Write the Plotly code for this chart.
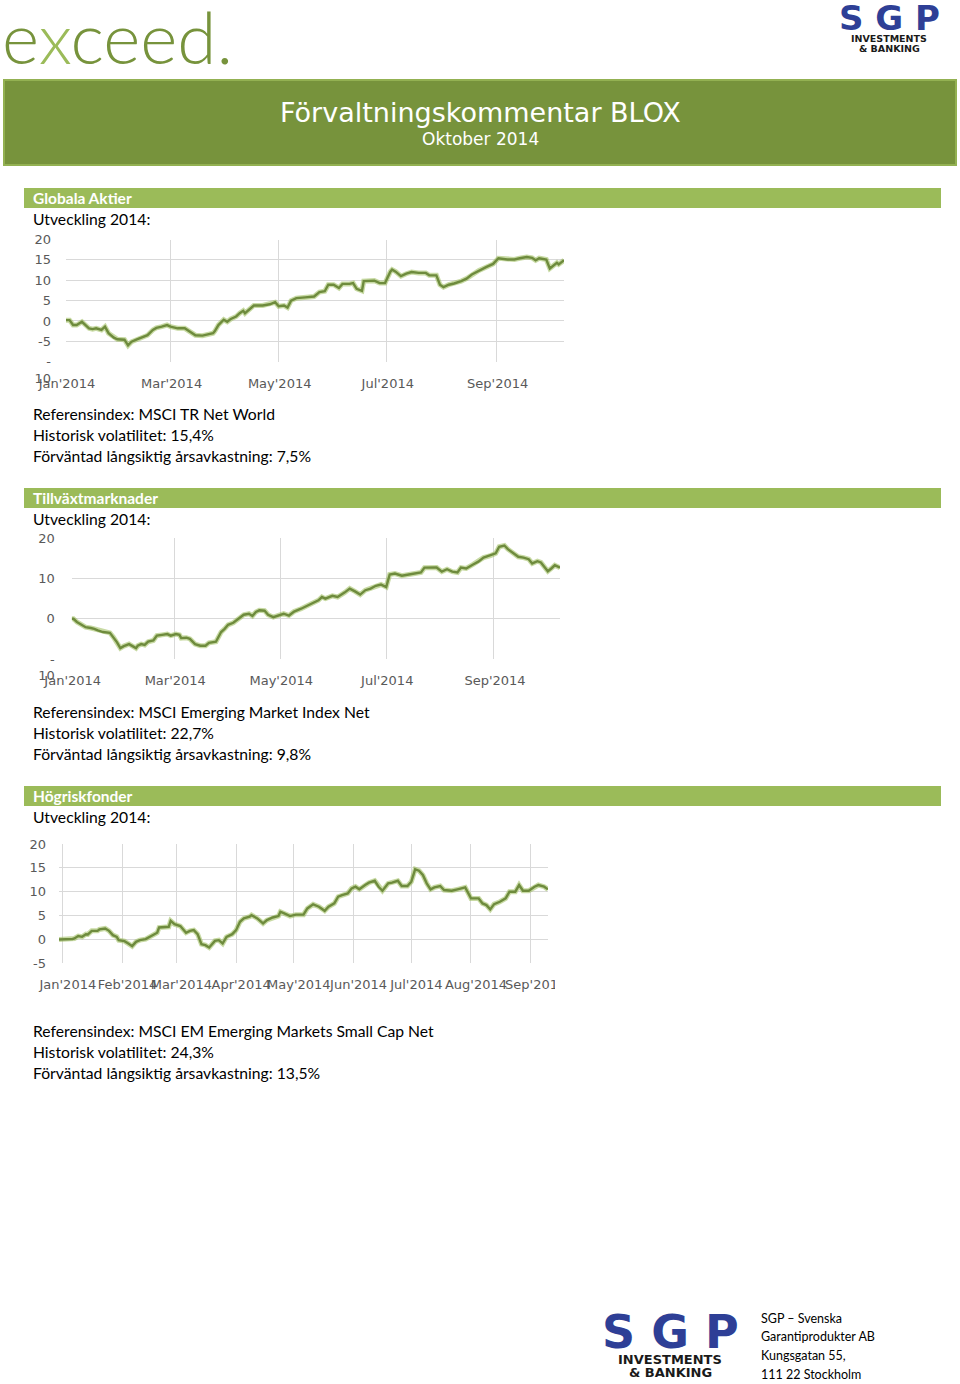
import plotly.graph_objects as go

W, H = 960, 1384

# ---------------- data ----------------
global_dates = ["2014-01-01","2014-01-03","2014-01-05","2014-01-07","2014-01-10","2014-01-12","2014-01-14","2014-01-16","2014-01-18","2014-01-21",
                "2014-01-23","2014-01-25","2014-01-28","2014-01-30","2014-02-03","2014-02-05","2014-02-07","2014-02-10","2014-02-13","2014-02-16",
                "2014-02-19","2014-02-21","2014-02-24","2014-02-27","2014-03-01","2014-03-05","2014-03-09","2014-03-12","2014-03-15","2014-03-19",
                "2014-03-22","2014-03-25","2014-03-26","2014-03-28","2014-03-31","2014-04-02","2014-04-04","2014-04-07","2014-04-09","2014-04-11",
                "2014-04-12","2014-04-15","2014-04-17","2014-04-22","2014-04-26","2014-04-29","2014-05-01","2014-05-04","2014-05-06","2014-05-08",
                "2014-05-11","2014-05-16","2014-05-21","2014-05-24","2014-05-27","2014-05-29","2014-06-01","2014-06-04","2014-06-06","2014-06-10",
                "2014-06-12","2014-06-14","2014-06-17","2014-06-18","2014-06-21","2014-06-24","2014-06-27","2014-06-30","2014-07-03","2014-07-04",
                "2014-07-06","2014-07-09","2014-07-12","2014-07-15","2014-07-19","2014-07-23","2014-07-25","2014-07-29","2014-07-31","2014-08-02",
                "2014-08-05","2014-08-08","2014-08-12","2014-08-15","2014-08-18","2014-08-22","2014-08-26","2014-08-30","2014-09-02","2014-09-07",
                "2014-09-11","2014-09-14","2014-09-18","2014-09-21","2014-09-23","2014-09-25","2014-09-29","2014-10-01","2014-10-03","2014-10-05",
                "2014-10-06","2014-10-08","2014-10-09"]
global_vals = [0.2,0.2,-1.0,-1.0,-0.2,-1.0,-1.8,-2.0,-1.8,-2.2,
               -1.4,-3.0,-4.1,-4.5,-4.6,-6.0,-5.1,-4.5,-3.9,-3.5,
               -2.2,-1.7,-1.4,-1.0,-1.4,-1.8,-1.8,-2.6,-3.5,-3.6,
               -3.3,-3.0,-2.5,-1.0,0.3,-0.2,0.5,1.1,1.9,2.5,
               1.9,3.1,3.8,3.8,4.1,4.6,3.6,3.8,3.3,5.0,
               5.6,5.8,6.0,7.1,7.3,8.9,8.9,8.1,9.1,9.1,
               9.3,7.9,7.4,9.8,9.8,9.9,9.3,9.3,12.1,12.6,
               12.1,11.0,11.6,12.0,11.8,11.8,11.2,11.2,8.9,8.3,
               8.9,9.2,9.8,10.4,11.4,12.4,13.2,14.0,15.4,15.1,
               15.1,15.4,15.7,15.5,14.9,15.4,15.1,12.9,13.7,14.3,
               13.9,14.5,14.9]

em_dates = ["2014-01-01","2014-01-02","2014-01-04","2014-01-07","2014-01-09","2014-01-12","2014-01-14","2014-01-16","2014-01-19","2014-01-23",
            "2014-01-25","2014-01-27","2014-01-29","2014-01-31","2014-02-03","2014-02-05","2014-02-07","2014-02-08","2014-02-10","2014-02-12",
            "2014-02-14","2014-02-17","2014-02-19","2014-02-22","2014-02-25","2014-02-27","2014-03-02","2014-03-04","2014-03-05","2014-03-08",
            "2014-03-10","2014-03-13","2014-03-16","2014-03-19","2014-03-21","2014-03-25","2014-03-28","2014-03-30","2014-04-01","2014-04-04",
            "2014-04-07","2014-04-10","2014-04-13","2014-04-15","2014-04-17","2014-04-19","2014-04-22","2014-04-24","2014-04-27","2014-04-30",
            "2014-05-03","2014-05-06","2014-05-09","2014-05-13","2014-05-17","2014-05-20","2014-05-23","2014-05-25","2014-05-27","2014-05-31",
            "2014-06-03","2014-06-07","2014-06-10","2014-06-13","2014-06-16","2014-06-19","2014-06-22","2014-06-25","2014-06-28","2014-07-01",
            "2014-07-03","2014-07-06","2014-07-08","2014-07-10","2014-07-14","2014-07-17","2014-07-21","2014-07-23","2014-07-27","2014-07-30",
            "2014-08-02","2014-08-05","2014-08-08","2014-08-11","2014-08-13","2014-08-16","2014-08-20","2014-08-23","2014-08-26","2014-08-30",
            "2014-09-02","2014-09-04","2014-09-07","2014-09-09","2014-09-12","2014-09-15","2014-09-18","2014-09-21","2014-09-23","2014-09-26",
            "2014-09-28","2014-10-02","2014-10-04","2014-10-06","2014-10-09"]
em_vals = [0.0,0.0,-0.8,-1.5,-2.1,-2.3,-2.5,-2.9,-3.3,-3.5,
           -4.6,-5.8,-7.3,-6.8,-6.3,-6.8,-7.3,-6.7,-6.3,-6.5,
           -5.7,-5.4,-4.2,-4.0,-3.8,-4.2,-3.8,-4.0,-4.8,-4.7,
           -5.0,-6.3,-6.7,-6.7,-6.0,-5.7,-3.3,-2.5,-1.5,-1.0,
           0.0,1.0,1.25,0.7,1.7,2.1,2.0,1.0,0.4,0.8,
           1.25,0.8,1.8,2.5,3.3,3.8,4.6,5.4,5.0,5.7,
           5.4,6.5,7.5,6.8,6.0,7.1,7.5,8.2,8.5,7.9,
           11.0,11.25,11.0,10.7,11.0,11.25,11.5,12.7,12.75,12.75,
           11.7,12.3,11.7,11.5,12.7,12.5,13.5,14.2,15.2,15.7,
           16.25,17.9,18.2,17.3,16.25,15.4,15.2,14.8,13.75,14.3,
           14.0,11.8,12.5,13.3,12.7]

hr_dates = ["2013-12-30","2014-01-03","2014-01-06","2014-01-07","2014-01-09","2014-01-11","2014-01-13","2014-01-14","2014-01-16","2014-01-19",
            "2014-01-20","2014-01-23","2014-01-25","2014-01-27","2014-01-29","2014-01-30","2014-02-02","2014-02-04","2014-02-06","2014-02-08",
            "2014-02-10","2014-02-13","2014-02-15","2014-02-16","2014-02-19","2014-02-20","2014-02-22","2014-02-25","2014-02-26","2014-02-28",
            "2014-03-03","2014-03-06","2014-03-08","2014-03-10","2014-03-12","2014-03-14","2014-03-16","2014-03-18","2014-03-21","2014-03-23",
            "2014-03-25","2014-03-27","2014-03-30","2014-04-01","2014-04-03","2014-04-05","2014-04-08","2014-04-09","2014-04-12","2014-04-15",
            "2014-04-17","2014-04-20","2014-04-23","2014-04-24","2014-04-26","2014-04-29","2014-05-02","2014-05-06","2014-05-08","2014-05-11",
            "2014-05-14","2014-05-17","2014-05-19","2014-05-22","2014-05-24","2014-05-26","2014-05-29","2014-05-31","2014-06-02","2014-06-04",
            "2014-06-07","2014-06-09","2014-06-12","2014-06-14","2014-06-16","2014-06-19","2014-06-21","2014-06-24","2014-06-26","2014-06-29",
            "2014-07-01","2014-07-03","2014-07-05","2014-07-07","2014-07-09","2014-07-11","2014-07-13","2014-07-16","2014-07-18","2014-07-22",
            "2014-07-25","2014-07-29","2014-08-01","2014-08-05","2014-08-07","2014-08-09","2014-08-11","2014-08-13","2014-08-16","2014-08-19",
            "2014-08-21","2014-08-24","2014-08-26","2014-08-28","2014-08-31","2014-09-03","2014-09-05","2014-09-08","2014-09-10"]
hr_vals = [0.0,0.0,0.1,0.2,0.7,0.55,1.1,1.05,1.8,1.8,
           2.1,2.3,1.8,0.9,0.55,-0.15,-0.35,-0.85,-1.4,-0.5,
           -0.15,0.07,0.55,0.7,1.4,2.5,2.5,2.65,3.9,3.2,
           2.8,1.4,1.8,1.95,1.1,-1.0,-1.2,-1.7,-0.3,-0.15,
           -0.85,0.55,1.1,1.95,3.7,4.4,4.75,5.1,4.4,3.35,
           4.05,4.6,4.9,5.8,5.45,4.9,5.2,5.2,6.5,7.35,
           6.85,6.0,6.85,7.55,8.95,9.3,9.65,10.7,11.05,10.5,
           11.4,11.9,12.3,11.05,10.2,11.75,11.9,12.3,11.2,11.2,
           12.1,14.7,14.4,13.5,11.75,10.5,10.9,11.2,10.35,10.2,
           10.5,10.9,8.6,8.6,7.55,7.2,6.3,7.4,7.9,8.6,
           10.0,10.0,11.4,10.2,10.2,11.05,11.4,11.05,10.5]

global_yticks = [-10, -5, 0, 5, 10, 15, 20]
global_yticktext = ["\u00a0<br>-<br>10", "-5", "0", "5", "10", "15", "20"]
em_yticks = [-10, 0, 10, 20]
em_yticktext = ["\u00a0<br>-<br>10", "0", "10", "20"]
hr_yticks = [-5, 0, 5, 10, 15, 20]
hr_yticktext = ["-5", "0", "5", "10", "15", "20"]

# ---------------- helpers ----------------
def px(x):
    return x / W

def py(y):
    return 1 - y / H

LINE = "#6E8B3D"
HALO = "rgba(155,187,89,0.55)"
GRID = "#D9D9D9"
TICKC = "#595959"
BODY = "Lato, 'Open Sans', sans-serif"
TICKF = "DejaVu Sans, Verdana, sans-serif"

fig = go.Figure()

series = [
    (global_dates, global_vals, "x", "y"),
    (em_dates, em_vals, "x2", "y2"),
    (hr_dates, hr_vals, "x3", "y3"),
]
for d, v, xa, ya in series:
    fig.add_trace(go.Scatter(x=d, y=v, xaxis=xa, yaxis=ya, mode="lines",
                             line=dict(color=HALO, width=5), hoverinfo="skip", showlegend=False))
    fig.add_trace(go.Scatter(x=d, y=v, xaxis=xa, yaxis=ya, mode="lines",
                             line=dict(color=LINE, width=2.4), showlegend=False))

def xax(domain, rng, dtick, anchor, shift=0, standoff=8):
    return dict(domain=domain, range=rng, type="date", dtick=dtick, tick0="2014-01-01",
                tickformat="%b'%Y", showgrid=True, gridcolor=GRID, gridwidth=1,
                zeroline=False, showline=False, ticks="", tickangle=0, automargin=False,
                tickfont=dict(family=TICKF, size=13, color=TICKC), anchor=anchor,
                ticklabelshift=shift, ticklabelstandoff=standoff, fixedrange=True)

def yax(domain, rng, vals, text, anchor, standoff=12):
    return dict(domain=domain, range=rng, tickmode="array", tickvals=vals, ticktext=text,
                showgrid=True, gridcolor=GRID, gridwidth=1, zeroline=False, showline=False,
                ticks="", tickfont=dict(family=TICKF, size=13, color=TICKC), anchor=anchor,
                automargin=False, ticklabelstandoff=standoff, fixedrange=True)

fig.update_layout(
    template="none",
    width=W, height=H, autosize=False,
    margin=dict(l=0, r=0, t=0, b=0, pad=0, autoexpand=False),
    paper_bgcolor="white", plot_bgcolor="white",
    showlegend=False,
    xaxis=xax([px(66), px(564)], ["2014-01-01", "2014-10-09"], "M2", "y", 1, 12),
    yaxis=yax([py(361.7), py(239.5)], [-10, 20], global_yticks, global_yticktext, "x", 14),
    xaxis2=xax([px(71.7), px(560)], ["2014-01-01", "2014-10-09"], "M2", "y2", 1, 12),
    yaxis2=yax([py(659), py(538.3)], [-10, 20], em_yticks, em_yticktext, "x2", 16),
    xaxis3=xax([px(59), px(548)], ["2013-12-30", "2014-09-10"], "M1", "y3", 5, 12),
    yaxis3=yax([py(963.3), py(844)], [-5, 20], hr_yticks, hr_yticktext, "x3", 12),
)

shapes = []
# header band
shapes.append(dict(type="rect", xref="paper", yref="paper", x0=px(4), x1=px(956), y0=py(165), y1=py(80),
                   fillcolor="#77933C", line=dict(color="#93B152", width=2), layer="below"))
# section bars
for top in (188, 488, 786):
    shapes.append(dict(type="rect", xref="paper", yref="paper", x0=px(24), x1=px(941), y0=py(top + 20), y1=py(top),
                       fillcolor="#9BBB59", line=dict(width=0), layer="below"))
# clip of the last month label in the third chart
shapes.append(dict(type="rect", xref="paper", yref="paper", x0=px(555), x1=px(610), y0=py(997), y1=py(972),
                   fillcolor="white", line=dict(width=0), layer="above"))
fig.update_layout(shapes=shapes)

ann = []
def txt(x, y, text, size, color="#000000", family=BODY, xanchor="left", yanchor="middle", weight=None):
    f = dict(family=family, size=size, color=color)
    if weight is not None:
        f["weight"] = weight
    ann.append(dict(xref="paper", yref="paper", x=px(x), y=py(y), text=text, showarrow=False,
                    xanchor=xanchor, yanchor=yanchor, font=f, align="left"))

# logos
txt(0, 36, "e<span style='color:#9BBB59'>x</span>ceed.", 71, color="#77933C", weight=300)
txt(889, 18, "S G P", 34, color="#2E3F96", family="DejaVu Sans", xanchor="center", weight="bold")
txt(889, 39, "INVESTMENTS", 9.5, color="#1A1A1A", family="DejaVu Sans", xanchor="center", weight="bold")
txt(889, 48.5, "&amp; BANKING", 9.5, color="#1A1A1A", family="DejaVu Sans", xanchor="center", weight="bold")

# header
txt(480, 113, "Förvaltningskommentar BLOX", 27, color="white", family="DejaVu Sans", xanchor="center")
txt(480, 139, "Oktober 2014", 17, color="white", family="DejaVu Sans", xanchor="center")

sections = [
    (198, "Globala Aktier", ["Referensindex: MSCI TR Net World", "Historisk volatilitet: 15,4%",
                              "Förväntad långsiktig årsavkastning: 7,5%"], 414),
    (498, "Tillväxtmarknader", ["Referensindex: MSCI Emerging Market Index Net", "Historisk volatilitet: 22,7%",
                                 "Förväntad långsiktig årsavkastning: 9,8%"], 712),
    (796, "Högriskfonder", ["Referensindex: MSCI EM Emerging Markets Small Cap Net", "Historisk volatilitet: 24,3%",
                             "Förväntad långsiktig årsavkastning: 13,5%"], 1031),
]
for yb, title, lines, yi in sections:
    txt(31, yb, title, 15.5, color="white", weight="bold")
    txt(31, yb + 21, "Utveckling 2014:", 15.7)
    for i, ln in enumerate(lines):
        txt(31, yi + 21 * i, ln, 15.7)

# footer
txt(670, 1332, "S G P", 46, color="#2E3F96", family="DejaVu Sans", xanchor="center", weight="bold")
txt(670, 1359, "INVESTMENTS", 13, color="#1A1A1A", family="DejaVu Sans", xanchor="center", weight="bold")
txt(670, 1372.5, "&amp; BANKING", 13, color="#1A1A1A", family="DejaVu Sans", xanchor="center", weight="bold")
for i, ln in enumerate(["SGP – Svenska", "Garantiprodukter AB", "Kungsgatan 55,", "111 22 Stockholm"]):
    txt(759, 1318 + 18.7 * i, ln, 12.5)

fig.update_layout(annotations=ann)

fig.write_html("out.html", config={"displayModeBar": False, "staticPlot": True},
               post_script="document.body.style.margin='0';document.body.style.overflow='hidden';")
